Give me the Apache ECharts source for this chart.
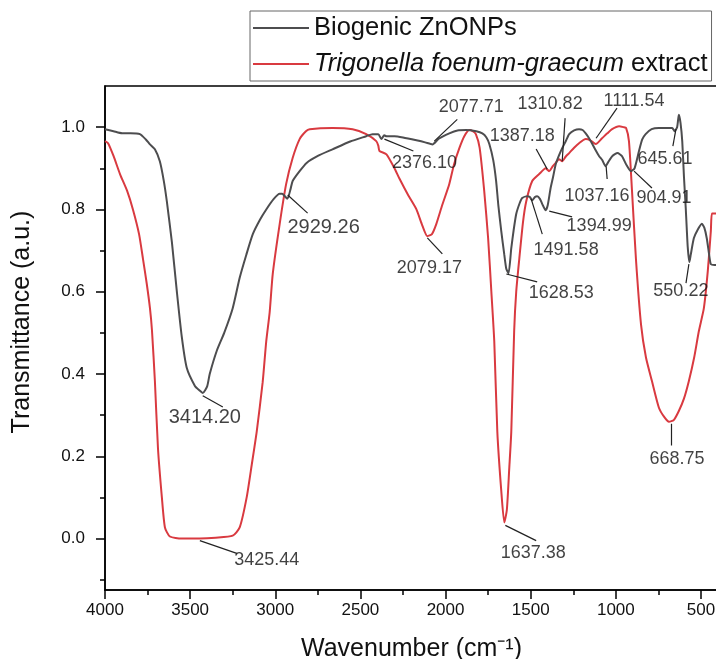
<!DOCTYPE html>
<html>
<head>
<meta charset="utf-8">
<script src="https://cdn.jsdelivr.net/npm/echarts@6/dist/echarts.min.js"></script>
<style>
  html, body { margin: 0; padding: 0; background: #fff; }
  #chart { width: 716px; height: 659px; }
</style>
</head>
<body>
<div id="chart"></div>
<script>
// FTIR spectra (wavenumber in cm-1, transmittance in a.u.)
const znoWavenumber = [4000, 3950, 3900, 3850, 3795, 3760, 3736, 3707, 3678, 3655, 3637, 3607, 3578, 3549, 3520, 3472, 3445, 3426, 3400, 3385, 3344, 3300, 3250, 3209, 3170, 3132, 3090, 3053, 3010, 2974, 2960, 2929, 2910, 2898, 2857, 2816, 2750, 2664, 2560, 2466, 2429, 2395, 2377, 2360, 2347, 2300, 2250, 2171, 2120, 2077, 2040, 1978, 1930, 1878, 1820, 1784, 1760, 1743, 1720, 1703, 1690, 1673, 1655, 1643, 1630, 1614, 1600, 1585, 1565, 1550, 1520, 1505, 1491, 1475, 1462, 1445, 1432, 1412, 1400, 1383, 1368, 1353, 1330, 1315, 1295, 1274, 1245, 1216, 1195, 1177, 1160, 1138, 1120, 1099, 1080, 1060, 1045, 1020, 990, 965, 940, 911, 890, 864, 845, 825, 790, 747, 700, 669, 655, 640, 630, 620, 610, 600, 589, 578, 568, 560, 542, 520, 495, 480, 466, 452, 442, 420, 400];
const znoTransmittance = [0.995, 0.99, 0.985, 0.985, 0.983, 0.97, 0.958, 0.946, 0.917, 0.87, 0.82, 0.72, 0.60, 0.49, 0.415, 0.371, 0.36, 0.354, 0.37, 0.40, 0.456, 0.50, 0.56, 0.634, 0.69, 0.74, 0.775, 0.80, 0.825, 0.838, 0.838, 0.826, 0.85, 0.869, 0.893, 0.913, 0.93, 0.946, 0.965, 0.978, 0.983, 0.983, 0.971, 0.98, 0.978, 0.978, 0.975, 0.968, 0.963, 0.958, 0.972, 0.985, 0.992, 0.993, 0.99, 0.985, 0.975, 0.959, 0.92, 0.869, 0.81, 0.748, 0.69, 0.655, 0.645, 0.706, 0.75, 0.789, 0.815, 0.828, 0.832, 0.83, 0.822, 0.83, 0.832, 0.825, 0.813, 0.798, 0.81, 0.852, 0.88, 0.91, 0.935, 0.949, 0.965, 0.983, 0.992, 0.995, 0.993, 0.985, 0.975, 0.959, 0.945, 0.93, 0.92, 0.905, 0.915, 0.93, 0.937, 0.93, 0.91, 0.893, 0.9, 0.942, 0.97, 0.983, 0.995, 0.998, 0.998, 0.998, 0.99, 1.0, 1.03, 1.01, 0.966, 0.88, 0.80, 0.71, 0.672, 0.69, 0.73, 0.75, 0.765, 0.755, 0.73, 0.69, 0.667, 0.665, 0.665];

const tfgWavenumber = [4000, 3982, 3950, 3912, 3870, 3836, 3800, 3777, 3755, 3736, 3724, 3707, 3689, 3666, 3648, 3619, 3550, 3443, 3350, 3250, 3209, 3168, 3138, 3109, 3074, 3053, 3033, 3015, 2974, 2936, 2898, 2857, 2820, 2798, 2664, 2546, 2466, 2407, 2395, 2388, 2347, 2300, 2271, 2220, 2171, 2140, 2107, 2080, 2054, 2020, 1978, 1950, 1919, 1890, 1860, 1840, 1822, 1800, 1773, 1750, 1731, 1714, 1696, 1673, 1655, 1640, 1626, 1614, 1597, 1585, 1567, 1545, 1526, 1491, 1450, 1412, 1392, 1370, 1353, 1333, 1315, 1295, 1274, 1245, 1216, 1177, 1150, 1118, 1081, 1050, 1022, 981, 955, 940, 923, 905, 882, 852, 823, 788, 747, 715, 688, 660, 630, 600, 571, 540, 512, 483, 460, 442, 436, 420, 400];
const tfgTransmittance = [0.966, 0.961, 0.93, 0.886, 0.845, 0.80, 0.74, 0.68, 0.62, 0.56, 0.505, 0.383, 0.22, 0.10, 0.027, 0.005, 0.0, 0.0, 0.002, 0.007, 0.027, 0.10, 0.18, 0.26, 0.38, 0.48, 0.55, 0.643, 0.765, 0.862, 0.925, 0.971, 0.99, 0.995, 0.998, 0.995, 0.983, 0.966, 0.955, 0.942, 0.934, 0.90, 0.875, 0.835, 0.80, 0.765, 0.735, 0.74, 0.765, 0.81, 0.862, 0.91, 0.949, 0.978, 0.993, 0.99, 0.983, 0.95, 0.845, 0.73, 0.60, 0.48, 0.26, 0.117, 0.039, 0.07, 0.17, 0.26, 0.505, 0.60, 0.68, 0.77, 0.82, 0.869, 0.886, 0.90, 0.893, 0.905, 0.913, 0.922, 0.917, 0.928, 0.937, 0.95, 0.961, 0.971, 0.968, 0.959, 0.973, 0.985, 0.995, 1.002, 1.0, 0.998, 0.966, 0.845, 0.68, 0.52, 0.44, 0.383, 0.318, 0.295, 0.284, 0.288, 0.31, 0.34, 0.383, 0.44, 0.505, 0.56, 0.65, 0.748, 0.79, 0.79, 0.79];

// peak labels: text, leader start [wn, T], leader end [wn, T], label centre [wn, T]
const peakLabels = [
  ['3414.20', [3426, 0.347], [3308, 0.320], [3414, 0.294]],
  ['3425.44', [3443, -0.005], [3226, -0.036], [3050, -0.053]],
  ['2929.26', [2927, 0.835], [2810, 0.791], [2716, 0.755]],
  ['2376.10', [2359, 0.971], [2189, 0.942], [2124, 0.913]],
  ['2077.71', [2066, 0.966], [1931, 1.019], [1849, 1.049]],
  ['2079.17', [2107, 0.731], [2019, 0.692], [2095, 0.658]],
  ['1387.18', [1403, 0.898], [1468, 0.947], [1550, 0.978]],
  ['1310.82', [1315, 0.917], [1298, 1.022], [1386, 1.056]],
  ['1111.54', [1116, 0.973], [993, 1.046], [893, 1.063]],
  ['645.61', [647, 0.995], [665, 0.954], [711, 0.922]],
  ['1037.16', [1057, 0.905], [1051, 0.874], [1110, 0.833]],
  ['904.91', [893, 0.893], [788, 0.852], [717, 0.828]],
  ['1394.99', [1391, 0.796], [1257, 0.782], [1098, 0.760]],
  ['1491.58', [1497, 0.825], [1432, 0.740], [1292, 0.701]],
  ['1628.53', [1643, 0.643], [1462, 0.624], [1321, 0.597]],
  ['550.22', [571, 0.667], [588, 0.621], [618, 0.602]],
  ['1637.38', [1649, 0.032], [1468, -0.005], [1485, -0.036]],
  ['668.75', [676, 0.279], [676, 0.226], [641, 0.194]]
];
const largerLabels = ['3414.20', '2929.26'];

const xTicks = [4000, 3500, 3000, 2500, 2000, 1500, 1000, 500];
const xMinorTicks = [3750, 3250, 2750, 2250, 1750, 1250, 750];
const yTicks = [0, 0.2, 0.4, 0.6, 0.8, 1.0];
const yMinorTicks = [-0.1, 0.1, 0.3, 0.5, 0.7, 0.9];

const seriesNames = ['Biogenic ZnONPs', 'Trigonella foenum-graecum extract'];

const font = '"Liberation Sans", Arial, sans-serif';
const pair = (xs, ys) => xs.map((x, i) => [x, ys[i]]);

const chart = echarts.init(document.getElementById('chart'));

const xBase = {
  type: 'value', inverse: true, min: 400, max: 4000,
  splitLine: { show: false }
};
const yBase = {
  type: 'value', min: -0.125, max: 1.1,
  splitLine: { show: false }
};
const tickStyle = { color: '#000', width: 1.5 };

chart.setOption({
  animation: false,
  backgroundColor: '#fff',
  textStyle: { fontFamily: font },
  grid: {
    left: 105, right: -2, top: 86, bottom: 69,
    outerBoundsMode: 'none',
    containLabel: false,
    show: true, borderColor: '#000', borderWidth: 1.5
  },
  legend: {
    data: seriesNames,
    orient: 'vertical',
    left: 250, top: 11,
    icon: 'rect',
    itemWidth: 56, itemHeight: 2, itemGap: 10,
    padding: [4, 4, 4, 3],
    borderColor: '#666', borderWidth: 1,
    textStyle: {
      fontFamily: font, fontSize: 25.5, color: '#111',
      rich: { i: { fontFamily: font, fontSize: 25.5, fontStyle: 'italic', color: '#111' } }
    },
    formatter: name => name === seriesNames[1]
      ? '{i|Trigonella foenum-graecum} extract' : name
  },
  xAxis: [
    Object.assign({}, xBase, {
      name: 'Wavenumber (cm\u207B\u00B9)',
      nameLocation: 'middle', nameGap: 47,
      nameTextStyle: { fontFamily: font, fontSize: 25, color: '#111' },
      axisLine: { onZero: false, lineStyle: tickStyle },
      axisTick: { customValues: xTicks, length: 9, lineStyle: tickStyle },
      axisLabel: {
        customValues: xTicks, fontSize: 17, color: '#111', margin: 12, fontFamily: font,
        formatter: v => String(v)
      }
    }),
    Object.assign({}, xBase, {
      position: 'bottom',
      axisLine: { show: false, onZero: false },
      axisTick: { customValues: xMinorTicks, length: 5, lineStyle: tickStyle },
      axisLabel: { show: false }
    })
  ],
  yAxis: [
    Object.assign({}, yBase, {
      name: 'Transmittance (a.u.)',
      nameLocation: 'middle', nameGap: 70,
      nameTextStyle: { fontFamily: font, fontSize: 25, color: '#111', padding: [0, 0, 0, 32] },
      axisLine: { show: true, onZero: false, lineStyle: tickStyle },
      axisTick: { show: true, customValues: yTicks, length: 9, lineStyle: tickStyle },
      axisLabel: {
        customValues: yTicks, fontSize: 17, color: '#111', margin: 20, fontFamily: font,
        formatter: v => v.toFixed(1)
      }
    }),
    Object.assign({}, yBase, {
      position: 'left',
      axisLine: { show: false, onZero: false },
      axisTick: { show: true, customValues: yMinorTicks, length: 5, lineStyle: tickStyle },
      axisLabel: { show: false }
    })
  ],
  series: [
    {
      name: seriesNames[0], type: 'line', symbol: 'none', smooth: 0.2,
      data: pair(znoWavenumber, znoTransmittance),
      lineStyle: { color: '#4d4d4f', width: 2 }, itemStyle: { color: '#4d4d4f' },
      z: 3
    },
    {
      name: seriesNames[1], type: 'line', symbol: 'none', smooth: 0.2,
      data: pair(tfgWavenumber, tfgTransmittance),
      lineStyle: { color: '#d93a40', width: 2 }, itemStyle: { color: '#d93a40' },
      z: 2
    },
    {
      type: 'lines', coordinateSystem: 'cartesian2d', silent: true,
      lineStyle: { color: '#222', width: 1.2, opacity: 1 },
      data: peakLabels.map(p => ({ coords: [p[1], p[2]] })),
      z: 4
    },
    {
      type: 'scatter', symbolSize: 0, silent: true,
      data: peakLabels.map(p => ({
        name: p[0], value: p[3],
        label: { fontSize: largerLabels.includes(p[0]) ? 20 : 18 }
      })),
      label: {
        show: true, position: 'inside', formatter: '{b}',
        color: '#111', fontFamily: font
      },
      z: 5
    }
  ]
});
</script>
</body>
</html>
